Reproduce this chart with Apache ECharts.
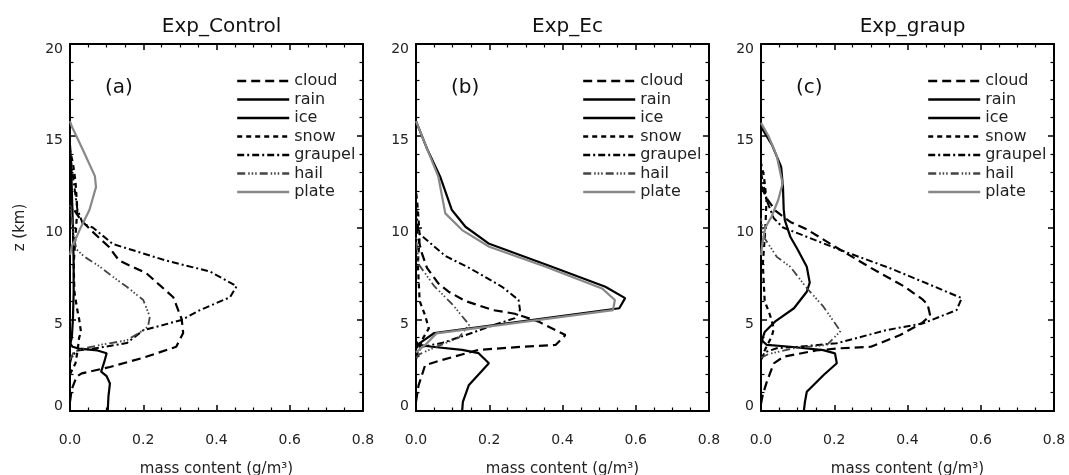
<!DOCTYPE html>
<html>
<head>
<meta charset="utf-8">
<script src="https://cdn.jsdelivr.net/npm/echarts@6/dist/echarts.min.js"></script>
<style>
html,body{margin:0;padding:0;background:#fff;}
#chart{width:1069px;height:475px;}
</style>
</head>
<body>
<div id="chart"></div>
<script>
// ---- data: [mass content (g/m3), height z (km)] ----
const panelTitles = ['Exp_Control', 'Exp_Ec', 'Exp_graup'];
const panelLetters = ['(a)', '(b)', '(c)'];
const species = ['cloud', 'rain', 'ice', 'snow', 'graupel', 'hail', 'plate'];
const xTicks = [0.0, 0.2, 0.4, 0.6, 0.8];
const yTicks = [0, 5, 10, 15, 20];

// Panel (a) Exp_Control
const a_cloud = [[0,0.5],[0.005,1.2],[0.018,1.87],[0.032,2.05],[0.109,2.4],[0.2,2.9],[0.29,3.5],[0.309,4.25],[0.305,5.0],[0.282,6.2],[0.209,7.5],[0.134,8.2],[0.106,8.95],[0.06,9.8],[0.03,10.4],[0.01,11],[0,11.5]];
const a_rain = [[0.103,0],[0.105,0.8],[0.109,1.5],[0.1,1.9],[0.085,2.15],[0.094,2.7],[0.1,3.15],[0.075,3.3],[0.025,3.4],[0.007,3.5],[0,3.7]];
const a_ice = [[0,3.6],[0.005,4.0],[0.008,5],[0.01,6.5],[0.01,8],[0.008,10],[0.005,12],[0.003,13.5],[0,14.5]];
const a_snow = [[0,2.0],[0.015,2.6],[0.02,3.2],[0.025,4.0],[0.03,4.3],[0.025,5.0],[0.02,5.5],[0.012,6.5],[0.01,8],[0.015,9.5],[0.02,11],[0.015,12.5],[0.008,13.5],[0,14.2]];
const a_graupel = [[0,2.6],[0.005,3.0],[0.02,3.3],[0.073,3.43],[0.155,3.7],[0.2,4.4],[0.305,4.96],[0.355,5.5],[0.437,6.2],[0.455,6.8],[0.382,7.6],[0.262,8.2],[0.117,9.1],[0.062,10.0],[0.035,10.2],[0.02,11],[0.01,12.5],[0,14]];
const a_hail = [[0,2.8],[0.01,3.2],[0.036,3.4],[0.082,3.6],[0.155,3.85],[0.2,4.4],[0.213,4.6],[0.218,5.14],[0.2,6.05],[0.155,6.77],[0.118,7.3],[0.082,7.86],[0.04,8.4],[0.018,8.8],[0.01,9.5],[0.005,10.5],[0,11.2]];
const a_plate = [[0,8.5],[0.005,9.0],[0.014,9.3],[0.027,9.9],[0.053,10.95],[0.071,12.2],[0.068,12.8],[0.036,14.2],[0.005,15.5],[0,15.8]];

// Panel (b) Exp_Ec
const b_cloud = [[0,0.5],[0.007,1.4],[0.025,2.5],[0.071,2.78],[0.171,3.33],[0.289,3.5],[0.381,3.6],[0.408,4.14],[0.335,4.87],[0.27,5.3],[0.21,5.5],[0.134,6.0],[0.089,6.5],[0.061,6.95],[0.03,7.8],[0.016,8.6],[0.005,9.5],[0,10.2]];
const b_rain = [[0.126,0],[0.128,0.5],[0.144,1.4],[0.199,2.6],[0.171,3.15],[0.126,3.33],[0.044,3.5],[0.007,3.6],[0,3.8]];
const b_ice = [[0,3.4],[0.01,3.7],[0.05,4.25],[0.555,5.6],[0.571,6.15],[0.517,6.77],[0.371,7.86],[0.198,9.13],[0.135,10.04],[0.098,10.95],[0.066,12.77],[0.03,14.3],[0,15.8]];
const b_snow = [[0,3.0],[0.01,3.5],[0.02,4.0],[0.035,4.5],[0.025,5.2],[0.01,6],[0.005,8],[0.01,9.5],[0.005,11],[0,12]];
const b_graupel = [[0,2.8],[0.005,3.2],[0.016,3.5],[0.07,3.7],[0.152,4.25],[0.2,4.6],[0.27,5.06],[0.284,5.5],[0.28,6.05],[0.235,6.77],[0.145,7.8],[0.08,8.45],[0.007,9.7],[0.003,10.5],[0,11.5]];
const b_hail = [[0,2.9],[0.01,3.1],[0.044,3.4],[0.117,4.0],[0.145,4.7],[0.1,5.8],[0.05,6.8],[0.007,8.0],[0,9.5]];
const b_plate = [[0,3.2],[0.025,3.6],[0.056,4.23],[0.538,5.5],[0.543,6.05],[0.508,6.68],[0.354,7.86],[0.2,8.95],[0.126,9.86],[0.08,10.77],[0.061,12.77],[0.03,14.3],[0,15.8]];

// Panel (c) Exp_graup
const c_cloud = [[0,0.4],[0.005,0.9],[0.016,1.6],[0.035,2.6],[0.062,2.96],[0.15,3.3],[0.217,3.42],[0.3,3.5],[0.38,4.14],[0.44,4.8],[0.462,5.2],[0.455,5.8],[0.44,6.1],[0.39,6.8],[0.3,7.8],[0.19,9.1],[0.125,9.9],[0.08,10.3],[0.04,10.9],[0.015,11.6],[0,12.3]];
const c_rain = [[0.117,0],[0.12,0.5],[0.125,1.05],[0.171,1.96],[0.207,2.6],[0.202,3.14],[0.17,3.32],[0.08,3.5],[0.016,3.6],[0,3.9]];
const c_ice = [[0,3.6],[0.005,4.0],[0.01,4.3],[0.04,4.9],[0.09,5.6],[0.125,6.5],[0.133,7.0],[0.125,7.86],[0.1,8.8],[0.08,9.5],[0.065,10.4],[0.062,11.0],[0.06,12.2],[0.055,13.3],[0.03,14.5],[0,15.5]];
const c_snow = [[0,2.8],[0.01,3.3],[0.03,4.1],[0.035,4.5],[0.025,5.2],[0.01,6],[0.005,8],[0.012,10],[0.015,11.5],[0.008,12.8],[0,13.5]];
const c_graupel = [[0,2.8],[0.01,3.2],[0.043,3.42],[0.1,3.5],[0.207,3.69],[0.343,4.41],[0.443,4.78],[0.534,5.5],[0.548,6.15],[0.452,6.96],[0.35,7.8],[0.217,8.77],[0.06,10.0],[0.035,10.5],[0.015,11.5],[0.005,12.5],[0,13]];
const c_hail = [[0,2.9],[0.02,3.1],[0.09,3.42],[0.18,3.6],[0.217,4.35],[0.17,5.7],[0.125,6.7],[0.08,7.86],[0.043,8.4],[0.007,9.5],[0,10.5]];
const c_plate = [[0,8.5],[0.005,9.3],[0.012,10.0],[0.029,10.6],[0.047,11.5],[0.059,12.4],[0.043,13.9],[0.02,15],[0,15.7]];

const panels = [
  {cloud:a_cloud, rain:a_rain, ice:a_ice, snow:a_snow, graupel:a_graupel, hail:a_hail, plate:a_plate},
  {cloud:b_cloud, rain:b_rain, ice:b_ice, snow:b_snow, graupel:b_graupel, hail:b_hail, plate:b_plate},
  {cloud:c_cloud, rain:c_rain, ice:c_ice, snow:c_snow, graupel:c_graupel, hail:c_hail, plate:c_plate}
];

// ---- styles / layout ----
const FONT = '"DejaVu Sans", "Liberation Sans", Arial, sans-serif';
const lineStyles = {
  cloud:   {color:'#000', width:2.2, type:[9,5]},
  rain:    {color:'#000', width:2.2, type:'solid'},
  ice:     {color:'#000', width:2.2, type:'solid'},
  snow:    {color:'#000', width:2.2, type:[5,4]},
  graupel: {color:'#000', width:2,   type:[7,3,2,3]},
  hail:    {color:'#444', width:1.8, type:[8,3,1.5,2,1.5,2,1.5,3]},
  plate:   {color:'#888', width:2.2, type:'solid'}
};
const gridLefts = [70, 416, 761];
const gridWidth = 293;
const gridTop = 44;
const gridHeight = 367;

const grids = [], xAxes = [], yAxes = [], series = [], titles = [], legends = [];

panels.forEach((p, i) => {
  grids.push({left: gridLefts[i], top: gridTop, width: gridWidth, height: gridHeight,
              containLabel: false, outerBoundsMode: 'none'});
  const tickCommon = {show: true, inside: true, length: 6, lineStyle: {color: '#000', width: 1.5}};
  const minorCommon = {show: true, length: 3.5, lineStyle: {color: '#000', width: 1.2}};
  const axisLineCommon = {show: true, onZero: false, lineStyle: {color: '#000', width: 2}};
  // bottom x
  xAxes.push({
    type: 'value', gridIndex: i, min: xTicks[0], max: xTicks[xTicks.length - 1], interval: xTicks[1] - xTicks[0],
    position: 'bottom', axisLine: axisLineCommon,
    axisTick: tickCommon, minorTick: Object.assign({splitNumber: 4}, minorCommon),
    splitLine: {show: false},
    axisLabel: {color: '#222', fontSize: 14, fontFamily: FONT, margin: 22, formatter: v => v.toFixed(1)},
    name: 'mass content (g/m³)', nameLocation: 'middle', nameGap: 51,
    nameTextStyle: {color: '#222', fontSize: 15, fontFamily: FONT}
  });
  // top mirror x
  xAxes.push({
    type: 'value', gridIndex: i, min: xTicks[0], max: xTicks[xTicks.length - 1], interval: xTicks[1] - xTicks[0],
    position: 'top', axisLine: axisLineCommon,
    axisTick: tickCommon, minorTick: Object.assign({splitNumber: 4}, minorCommon),
    splitLine: {show: false}, axisLabel: {show: false}
  });
  // left y
  const yLeft = {
    type: 'value', gridIndex: i, min: yTicks[0], max: yTicks[yTicks.length - 1], interval: yTicks[1] - yTicks[0],
    position: 'left', axisLine: axisLineCommon,
    axisTick: tickCommon, minorTick: Object.assign({splitNumber: 5}, minorCommon),
    splitLine: {show: false},
    axisLabel: {color: '#222', fontSize: 14, fontFamily: FONT, margin: 7, lineHeight: 10,
                verticalAlign: 'top', verticalAlignMinLabel: 'bottom', verticalAlignMaxLabel: 'top'}
  };
  if (i === 0) {
    yLeft.name = 'z (km)';
    yLeft.nameLocation = 'middle';
    yLeft.nameGap = 42;
    yLeft.nameTextStyle = {color: '#222', fontSize: 15, fontFamily: FONT};
  }
  yAxes.push(yLeft);
  yAxes.push({
    type: 'value', gridIndex: i, min: yTicks[0], max: yTicks[yTicks.length - 1], interval: yTicks[1] - yTicks[0],
    position: 'right', axisLine: axisLineCommon,
    axisTick: tickCommon, minorTick: Object.assign({splitNumber: 5}, minorCommon),
    splitLine: {show: false}, axisLabel: {show: false}
  });

  species.forEach(s => {
    series.push({
      type: 'line', name: s, xAxisIndex: i * 2, yAxisIndex: i * 2,
      data: p[s], showSymbol: false, symbol: 'none', smooth: false,
      lineStyle: lineStyles[s], itemStyle: {color: lineStyles[s].color},
      silent: true, animation: false, z: s === 'plate' ? 3 : 2
    });
  });

  titles.push({
    text: panelTitles[i], left: gridLefts[i] + gridWidth / 2, top: 12, textAlign: 'center',
    textStyle: {fontSize: 20, fontWeight: 'normal', color: '#111', fontFamily: FONT}
  });
  titles.push({
    text: panelLetters[i], left: gridLefts[i] + 30, top: 73,
    textStyle: {fontSize: 20, fontWeight: 'normal', color: '#111', fontFamily: FONT}
  });

  legends.push({
    data: species, orient: 'vertical', left: gridLefts[i] + 166, top: 73,
    itemWidth: 52, itemHeight: 12, itemGap: 2.5, padding: 0, selectedMode: false,
    itemStyle: {opacity: 0}, lineStyle: {width: 2.4},
    textStyle: {fontSize: 16, lineHeight: 16, color: '#222', fontFamily: FONT}
  });
});

const chart = echarts.init(document.getElementById('chart'), null, {renderer: 'canvas'});
chart.setOption({
  backgroundColor: '#fff',
  animation: false,
  title: titles,
  legend: legends,
  grid: grids,
  xAxis: xAxes,
  yAxis: yAxes,
  series: series
});
</script>
</body>
</html>
